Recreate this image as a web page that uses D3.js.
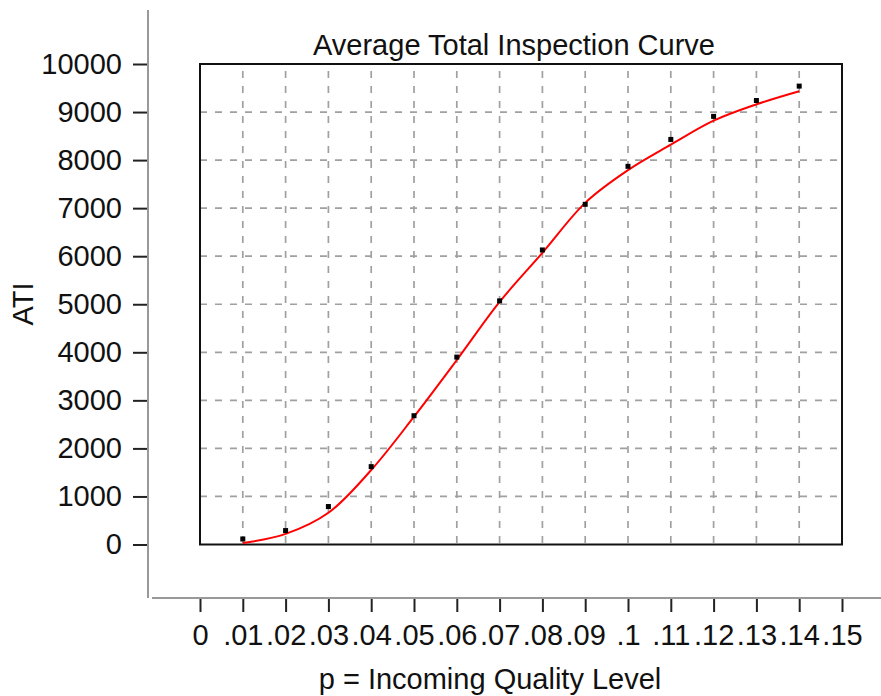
<!DOCTYPE html>
<html>
<head>
<meta charset="utf-8">
<script src="https://cdn.jsdelivr.net/npm/d3@7"></script>
<style>
  body { margin: 0; background: #fff; }
  text { font-family: "Liberation Sans", Arial, sans-serif; fill: #111; }
</style>
</head>
<body>
<div id="chart"></div>
<script>
// data
var pValues = [0.01, 0.02, 0.03, 0.04, 0.05, 0.06, 0.07, 0.08, 0.09, 0.10, 0.11, 0.12, 0.13, 0.14];
var atiPoints = [115, 290, 790, 1620, 2680, 3900, 5070, 6130, 7080, 7870, 8430, 8910, 9240, 9540];
var atiCurve = [30, 220, 660, 1550, 2660, 3840, 5050, 6070, 7110, 7790, 8320, 8820, 9160, 9433];
var xTicks = [0, 0.01, 0.02, 0.03, 0.04, 0.05, 0.06, 0.07, 0.08, 0.09, 0.10, 0.11, 0.12, 0.13, 0.14, 0.15];
var xTickLabels = ['0', '.01', '.02', '.03', '.04', '.05', '.06', '.07', '.08', '.09', '.1', '.11', '.12', '.13', '.14', '.15'];
var yTicks = [0, 1000, 2000, 3000, 4000, 5000, 6000, 7000, 8000, 9000, 10000];

var width = 881, height = 696;
var fontSize = 29;

var svg = d3.select('#chart').append('svg')
    .attr('width', width)
    .attr('height', height);

var x = d3.scaleLinear().domain([0, 0.15]).range([200, 842]);
var y = d3.scaleLinear().domain([0, 10000]).range([544.5, 64]);

// grid
var grid = svg.append('g')
    .attr('stroke', '#a0a0a0')
    .attr('stroke-width', 1.7)
    .attr('stroke-dasharray', '7,8');

grid.selectAll('.vgrid')
    .data(xTicks.slice(1, -1))
    .enter().append('line')
    .attr('class', 'vgrid')
    .attr('x1', d => x(d)).attr('x2', d => x(d))
    .attr('y1', y(10000) + 7).attr('y2', y(0));

grid.selectAll('.hgrid')
    .data(yTicks.slice(1, -1))
    .enter().append('line')
    .attr('class', 'hgrid')
    .attr('x1', x(0)).attr('x2', x(0.15))
    .attr('y1', d => y(d)).attr('y2', d => y(d));

// frame
svg.append('rect')
    .attr('x', x(0))
    .attr('y', y(10000))
    .attr('width', x(0.15) - x(0))
    .attr('height', y(0) - y(10000))
    .attr('fill', 'none')
    .attr('stroke', '#111')
    .attr('stroke-width', 2);

// fitted curve
var line = d3.line()
    .x((d, i) => x(pValues[i]))
    .y(d => y(d))
    .curve(d3.curveCatmullRom.alpha(0.5));

svg.append('path')
    .datum(atiCurve)
    .attr('d', line)
    .attr('fill', 'none')
    .attr('stroke', '#ff0000')
    .attr('stroke-width', 2);

// observed points
svg.selectAll('.pt')
    .data(atiPoints)
    .enter().append('rect')
    .attr('class', 'pt')
    .attr('x', (d, i) => x(pValues[i]) - 2.5)
    .attr('y', d => y(d) - 2.5)
    .attr('width', 5)
    .attr('height', 5)
    .attr('fill', '#000');

// y axis
var yAxis = d3.axisLeft(y)
    .tickValues(yTicks)
    .tickSize(15)
    .tickPadding(11)
    .tickFormat(d3.format('d'));

var gy = svg.append('g')
    .attr('transform', 'translate(148,0)')
    .call(yAxis);
gy.select('.domain').remove();
gy.selectAll('.tick line').attr('stroke', '#222').attr('stroke-width', 2);
gy.selectAll('.tick text')
    .style('font-size', fontSize + 'px')
    .attr('fill', '#111');

svg.append('line')
    .attr('x1', 148).attr('x2', 148)
    .attr('y1', 10).attr('y2', 598)
    .attr('stroke', '#999')
    .attr('stroke-width', 2);

// x axis
var xAxis = d3.axisBottom(x)
    .tickValues(xTicks)
    .tickSize(14)
    .tickFormat((d, i) => xTickLabels[i]);

var gx = svg.append('g')
    .attr('transform', 'translate(0,598)')
    .call(xAxis);
gx.select('.domain').remove();
gx.selectAll('.tick line').attr('stroke', '#222').attr('stroke-width', 2);
gx.selectAll('.tick text')
    .attr('y', 47)
    .attr('dy', 0)
    .style('font-size', fontSize + 'px')
    .attr('fill', '#111');

svg.append('line')
    .attr('x1', 152).attr('x2', width)
    .attr('y1', 598).attr('y2', 598)
    .attr('stroke', '#999')
    .attr('stroke-width', 2);

// titles
svg.append('text')
    .attr('x', 514)
    .attr('y', 55)
    .attr('text-anchor', 'middle')
    .style('font-size', fontSize + 'px')
    .text('Average Total Inspection Curve');

svg.append('text')
    .attr('x', 490)
    .attr('y', 689)
    .attr('text-anchor', 'middle')
    .style('font-size', fontSize + 'px')
    .text('p = Incoming Quality Level');

svg.append('text')
    .attr('transform', 'translate(33,304) rotate(-90)')
    .attr('text-anchor', 'middle')
    .style('font-size', fontSize + 'px')
    .text('ATI');
</script>
</body>
</html>
